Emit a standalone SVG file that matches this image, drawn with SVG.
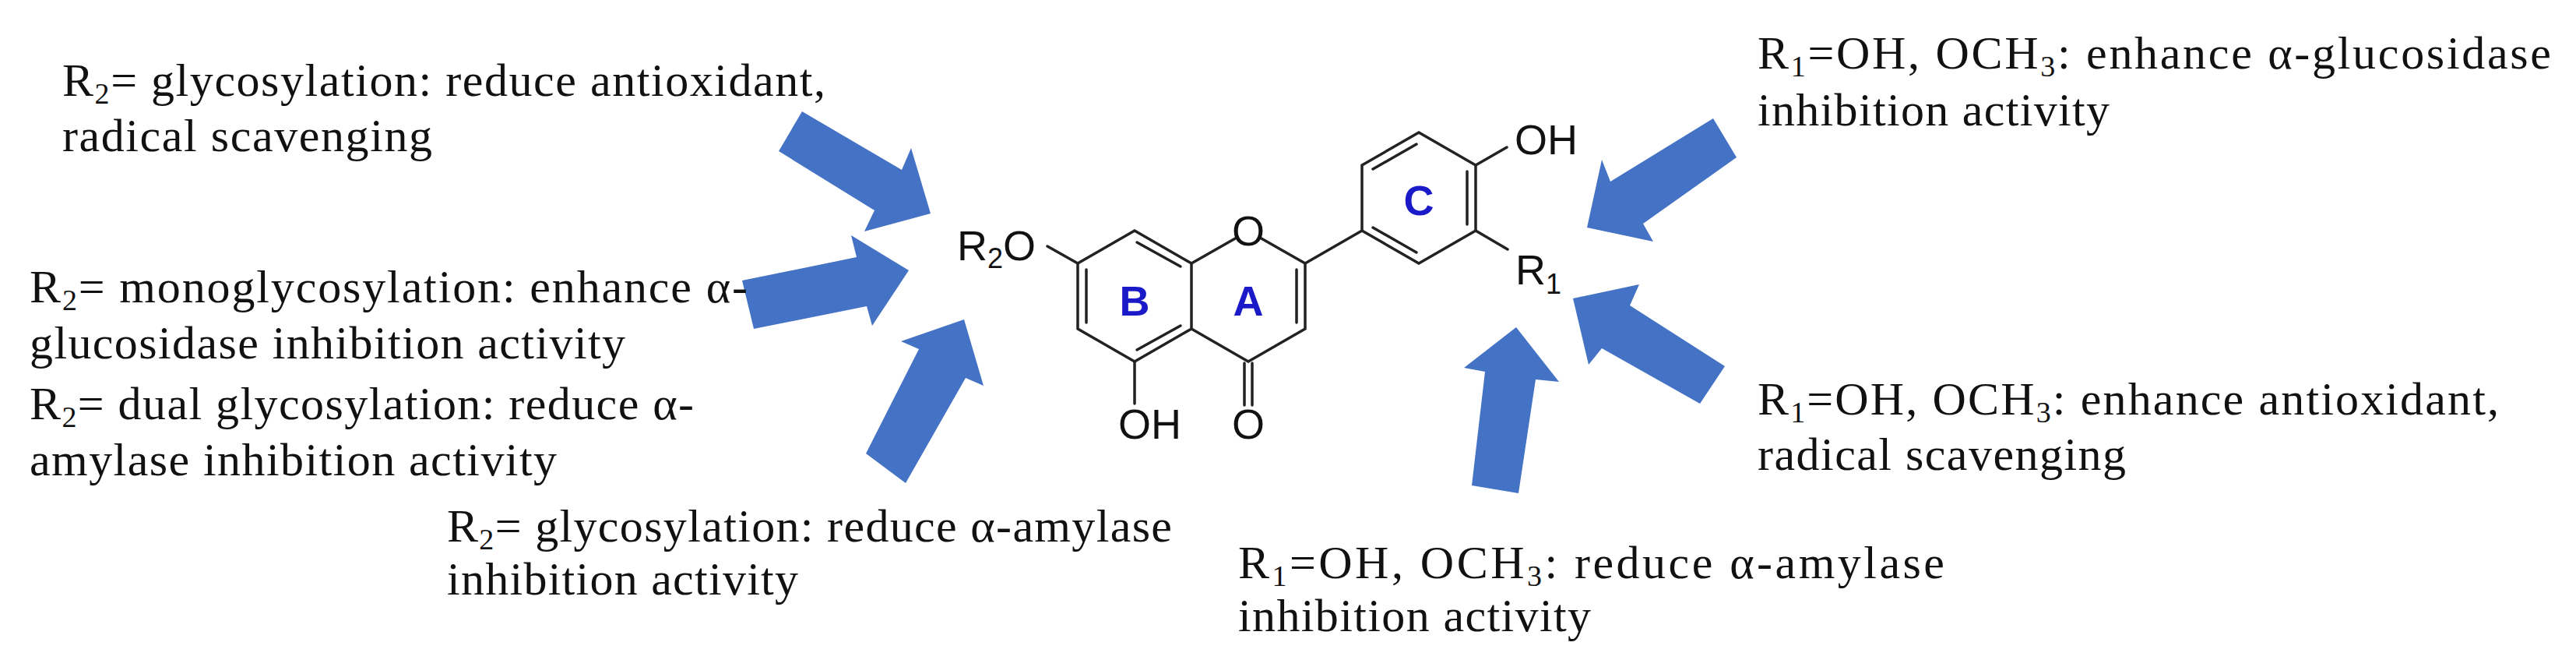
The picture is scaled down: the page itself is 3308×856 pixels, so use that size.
<svg xmlns="http://www.w3.org/2000/svg" width="3308" height="856" viewBox="0 0 3308 856">
<style>
.t{font-family:"Liberation Serif","Times New Roman",serif;font-size:60px;fill:#111}
.s{font-size:38px}
.b{stroke:#222;stroke-width:3.5;fill:none;stroke-linecap:round}
.l{font-family:"Liberation Sans",Arial,sans-serif;font-size:54px;fill:#111}
.ring{font-family:"Liberation Sans",Arial,sans-serif;font-size:54px;font-weight:bold;fill:#1a1ac8;text-anchor:middle}
.ar{fill:#4472C4}
</style>
<rect width="3308" height="856" fill="#fff"/>
<g id="connectors">
<polygon class="ar" points="1030,143 1158,218 1170,190 1195,274 1110,297 1123,270 1000,194"/>
<polygon class="ar" points="953,360 1100,330 1093,302 1167,347 1120,418 1113,393 968,422"/>
<polygon class="ar" points="1112,582 1180,448 1157,438 1238,410 1263,495 1240,485 1163,620"/>
<polygon class="ar" points="2200,152 2068,233 2057,205 2038,292 2123,310 2110,287 2230,202"/>
<polygon class="ar" points="2215,470 2093,392 2105,365 2020,383 2040,468 2057,447 2183,518"/>
<polygon class="ar" points="1890,623 1907,477 1880,472 1947,420 2002,490 1972,487 1950,633"/>
</g>
<g id="molecule">
<polygon class="b" points="1457,296 1530,338 1530,422 1457,464 1384,422 1384,338"/>
<path class="b" d="M1395,346V414 M1460,311L1516,342 M1516,418L1460,449"/>
<path class="b" d="M1530,338L1588,305 M1618,305L1676,338 L1676,422 L1603,464 L1530,422 M1665,346V414"/>
<path class="b" d="M1676,338L1749,296"/>
<polygon class="b" points="1822,170 1895,212 1895,296 1822,338 1749,296 1749,212"/>
<path class="b" d="M1763,217L1819,185 M1884,220V288 M1819,324L1763,292"/>
<path class="b" d="M1384,338L1345,316 M1457,464V518 M1598,466V520 M1608,466V520 M1895,212L1935,189 M1895,296L1936,320"/>
<text class="l" x="1330" y="334" text-anchor="end">R<tspan font-size="36" dy="10">2</tspan><tspan dy="-10">O</tspan></text>
<text class="l" x="1603" y="315" text-anchor="middle">O</text>
<text class="l" x="1436" y="563">OH</text>
<text class="l" x="1603" y="563" text-anchor="middle">O</text>
<text class="l" x="1945" y="198">OH</text>
<text class="l" x="1946" y="365">R<tspan font-size="36" dy="12">1</tspan></text>
<text class="ring" x="1457" y="405">B</text>
<text class="ring" x="1603" y="405">A</text>
<text class="ring" x="1822" y="276">C</text>
</g>
<g id="label-r2-antioxidant">
<text class="t" x="80" y="123" textLength="980" lengthAdjust="spacing">R<tspan class="s" dy="10">2</tspan><tspan dy="-10">= glycosylation: reduce antioxidant,</tspan></text>
<text class="t" x="80" y="194" textLength="475" lengthAdjust="spacing">radical scavenging</text>
</g>
<g id="label-r2-glucosidase">
<text class="t" x="38" y="388" textLength="922" lengthAdjust="spacing">R<tspan class="s" dy="10">2</tspan><tspan dy="-10">= monoglycosylation: enhance α-</tspan></text>
<text class="t" x="38" y="460" textLength="765" lengthAdjust="spacing">glucosidase inhibition activity</text>
<text class="t" x="38" y="538" textLength="853" lengthAdjust="spacing">R<tspan class="s" dy="10">2</tspan><tspan dy="-10">= dual glycosylation: reduce α-</tspan></text>
<text class="t" x="38" y="610" textLength="677" lengthAdjust="spacing">amylase inhibition activity</text>
</g>
<g id="label-r2-amylase">
<text class="t" x="574" y="695" textLength="931" lengthAdjust="spacing">R<tspan class="s" dy="10">2</tspan><tspan dy="-10">= glycosylation: reduce α-amylase</tspan></text>
<text class="t" x="574" y="763" textLength="451" lengthAdjust="spacing">inhibition activity</text>
</g>
<g id="label-r1-glucosidase">
<text class="t" x="2257" y="88" textLength="1019" lengthAdjust="spacing">R<tspan class="s" dy="10">1</tspan><tspan dy="-10">=OH, OCH</tspan><tspan class="s" dy="10">3</tspan><tspan dy="-10">: enhance α-glucosidase</tspan></text>
<text class="t" x="2257" y="161" textLength="452" lengthAdjust="spacing">inhibition activity</text>
</g>
<g id="label-r1-antioxidant">
<text class="t" x="2257" y="532" textLength="952" lengthAdjust="spacing">R<tspan class="s" dy="10">1</tspan><tspan dy="-10">=OH, OCH</tspan><tspan class="s" dy="10">3</tspan><tspan dy="-10">: enhance antioxidant,</tspan></text>
<text class="t" x="2257" y="603" textLength="473" lengthAdjust="spacing">radical scavenging</text>
</g>
<g id="label-r1-amylase">
<text class="t" x="1590" y="742" textLength="907" lengthAdjust="spacing">R<tspan class="s" dy="10">1</tspan><tspan dy="-10">=OH, OCH</tspan><tspan class="s" dy="10">3</tspan><tspan dy="-10">: reduce α-amylase</tspan></text>
<text class="t" x="1590" y="810" textLength="453" lengthAdjust="spacing">inhibition activity</text>
</g>
</svg>
